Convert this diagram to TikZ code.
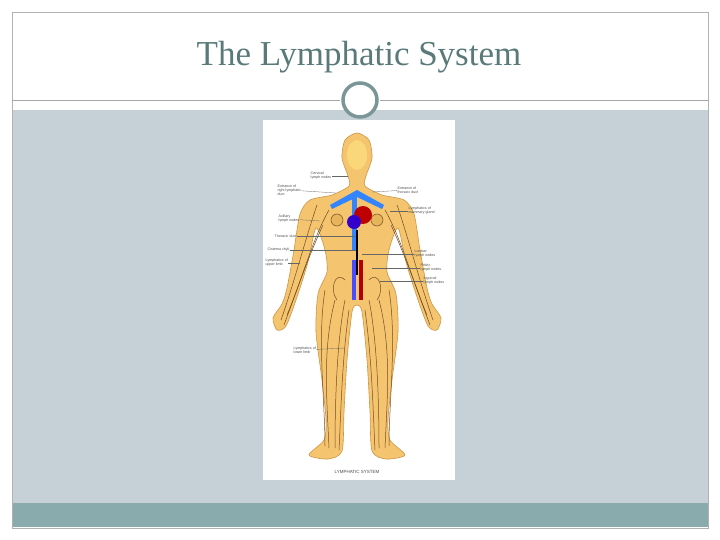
\documentclass[tikz,border=0pt]{standalone}
\usepackage{fontspec}
\setmainfont{Liberation Serif}
\newfontfamily\lab{Liberation Sans}
\definecolor{slidebg}{RGB}{197,209,214}
\definecolor{slidebar}{RGB}{138,171,173}
\definecolor{ringc}{RGB}{122,150,150}
\definecolor{titlec}{RGB}{90,122,122}
\definecolor{skin}{RGB}{244,196,110}
\definecolor{skinedge}{RGB}{205,150,70}
\definecolor{headc}{RGB}{250,215,120}
\definecolor{nodec}{RGB}{230,180,90}
\begin{document}
\begin{tikzpicture}[x=1pt,y=-1pt,
 lbl/.style={font=\lab\fontsize{3.6}{4}\selectfont,text=black!70,align=left,inner sep=0.5pt,anchor=west},
 lead/.style={black!60,line width=0.3pt},
 ves/.style={draw=brown!60!black,line width=0.5pt}]
\useasboundingbox (0,0) rectangle (720,540);
\fill[white] (0,0) rectangle (720,540);
\fill[slidebg] (12,110) rectangle (708,503);
\fill[slidebar] (12,503) rectangle (708,527);
\draw[gray!60,line width=0.5pt] (12,12) rectangle (708,528);
\draw[gray!70,line width=0.6pt] (12,100) -- (340,100) (380,100) -- (708,100);
\node[circle,draw=ringc,line width=3.5pt,fill=white,minimum size=34pt,inner sep=0] (ring) at (360,100) {};
\node[text=titlec,font=\fontsize{35}{40}\selectfont] (title) at (359,57) {The Lymphatic System};
% image
\fill[white] (263,120) rectangle (455,480);
\def\bodypath{(357,133) (369,140) (372,158) (366,176) (365,186) (382,195) (404,200) (414,214) (420,250) (427,288) (432,304) (441,318) (437,330) (428,326) (417,297) (406,262) (398,228) (389,250) (387,272) (396,294) (398,332) (392,380) (388,420) (390,440) (405,455) (386,459) (372,451) (370,412) (367,360) (362,312) (357,305)
 (352,312) (347,360) (344,412) (342,451) (328,459) (309,455) (324,440) (326,420) (322,380) (316,332) (318,294) (327,272) (325,250) (316,228) (308,262) (297,297) (286,326) (277,330) (273,318) (282,304) (287,288) (294,250) (300,214) (310,200) (332,195) (349,186) (348,176) (342,158) (345,140)}
\filldraw[fill=skin,draw=skinedge,line width=0.6pt] plot[smooth cycle,tension=0.45] coordinates {\bodypath};
\fill[headc] (357,155) ellipse (10 and 15);
% vessels
\foreach \s in {-1,1}{
 \draw[ves] (357+\s*28,210) .. controls (357+\s*45,240) and (357+\s*55,280) .. (357+\s*70,315);
 \draw[ves] (357+\s*40,205) .. controls (357+\s*52,240) and (357+\s*62,280) .. (357+\s*76,320);
 \draw[ves] (357+\s*34,225) .. controls (357+\s*50,260) and (357+\s*60,290) .. (357+\s*73,325);
 \draw[ves] (357+\s*12,300) .. controls (357+\s*20,340) and (357+\s*22,400) .. (357+\s*22,448);
 \draw[ves] (357+\s*22,300) .. controls (357+\s*35,350) and (357+\s*30,400) .. (357+\s*28,448);
 \draw[ves] (357+\s*32,290) .. controls (357+\s*40,340) and (357+\s*32,400) .. (357+\s*32,446);
 \draw[ves] (357+\s*8,310) .. controls (357+\s*15,360) and (357+\s*16,410) .. (357+\s*18,450);
 \draw[ves,fill=nodec] (357+\s*20,220) circle (6);
 \draw[ves] (357+\s*12,280) .. controls (357+\s*22,270) and (357+\s*28,290) .. (357+\s*20,300);
}
\fill[blue!60!cyan!80] (330,205) -- (357,190) -- (384,205) -- (382,209) -- (357,197) -- (332,209) -- cycle;
\fill[blue!60!cyan!80] (352,195) rectangle (357,250);
\fill[red!75!black] (363,215) circle (9);
\fill[blue!60!violet] (354,222) circle (7);
\fill[red!70!black] (359,260) rectangle (363,300);
\fill[blue!70] (352,260) rectangle (356,300);
\draw[black,line width=1.2pt] (357,230) -- (357,275);
% labels
\node[lbl] (l1) at (310,176) {Cervical\\lymph nodes};
\node[lbl] (l2) at (277,190) {Entrance of\\right lymphatic\\duct};
\node[lbl] (l3) at (397,190) {Entrance of\\thoracic duct};
\node[lbl] (l4) at (408,211) {Lymphatics of\\mammary gland};
\node[lbl] (l5) at (278,219) {Axillary\\lymph nodes};
\node[lbl] (l6) at (274,236) {Thoracic duct};
\node[lbl] (l7) at (267,250) {Cisterna chyli};
\node[lbl] (l8) at (265,263) {Lymphatics of\\upper limb};
\node[lbl] (l9) at (414,254) {Lumbar\\lymph nodes};
\node[lbl] (l10) at (420,268) {Pelvic\\lymph nodes};
\node[lbl] (l11) at (423,281) {Inguinal\\lymph nodes};
\node[lbl] (l12) at (293,350) {Lymphatics of\\lower limb};
\coordinate (t1) at (348,176); \coordinate (t2) at (336,193);
\coordinate (t3) at (372,192); \coordinate (t4) at (390,211);
\coordinate (t5) at (320,221); \coordinate (t6) at (355,236);
\coordinate (t7) at (356,250); \coordinate (t8) at (300,263);
\coordinate (t9) at (362,254); \coordinate (t10) at (372,268);
\coordinate (t11) at (380,281); \coordinate (t12) at (345,348);
\foreach \i in {1,...,12}{\draw[lead] (l\i) -- (t\i);}
\node[font=\lab\fontsize{4.5}{5}\selectfont,text=black!70] (cap) at (357,472) {LYMPHATIC SYSTEM};
\end{tikzpicture}
\end{document}
